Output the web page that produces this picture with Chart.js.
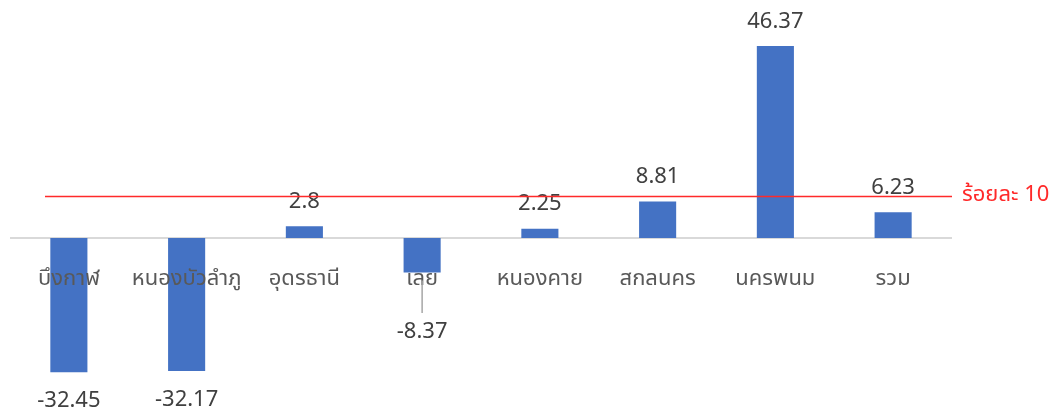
<!DOCTYPE html>
<html>
<head>
<meta charset="utf-8">
<script src="https://cdn.jsdelivr.net/npm/chart.js@4/dist/chart.umd.min.js"></script>
<style>
  html, body { margin: 0; padding: 0; background: #fff; }
  #wrap { width: 1058px; height: 413px; }
</style>
</head>
<body>
<div id="wrap"><canvas id="chart" width="1058" height="413"></canvas></div>
<script>
// ข้อมูลกราฟ
const provinces = ['บึงกาฬ', 'หนองบัวลำภู', 'อุดรธานี', 'เลย', 'หนองคาย', 'สกลนคร', 'นครพนม', 'รวม'];
const values = [-32.45, -32.17, 2.8, -8.37, 2.25, 8.81, 46.37, 6.23];
const targetValue = 10;
const targetLabel = 'ร้อยละ 10';

const FONT = "'Noto Sans Thai', Tahoma, 'Noto Sans', 'DejaVu Sans', sans-serif";

// วาดเส้นศูนย์ ป้ายหมวด ป้ายค่า และเส้นเป้าหมาย
const labelPlugin = {
    id: 'labelPlugin',
    beforeDatasetsDraw(chart) {
        const { ctx, chartArea, scales: { y } } = chart;
        const y0 = y.getPixelForValue(0);
        ctx.save();
        ctx.strokeStyle = '#d9d9d9';
        ctx.lineWidth = 2;
        ctx.beginPath();
        ctx.moveTo(chartArea.left, y0);
        ctx.lineTo(chartArea.right, y0);
        ctx.stroke();
        ctx.restore();
    },
    afterDatasetsDraw(chart) {
        const { ctx, chartArea, scales: { x, y } } = chart;
        const y0 = y.getPixelForValue(0);
        const catY = y0 + 43;
        ctx.save();

        // category labels
        ctx.font = '22px ' + FONT;
        ctx.fillStyle = '#595959';
        ctx.textAlign = 'center';
        ctx.textBaseline = 'middle';
        provinces.forEach((p, i) => {
            ctx.fillText(p, x.getPixelForValue(i), catY);
        });

        // value labels
        ctx.fillStyle = '#404040';
        values.forEach((v, i) => {
            const cx = x.getPixelForValue(i);
            const py = y.getPixelForValue(v);
            if (v >= 0) {
                ctx.fillText(String(v), cx, py - 23);
            } else if (py + 27 < catY + 30) {
                // ป้ายชนกับชื่อจังหวัด -> เลื่อนลงพร้อมเส้นนำ
                const ly = y0 + 96;
                ctx.strokeStyle = '#a6a6a6';
                ctx.lineWidth = 1.5;
                ctx.beginPath();
                ctx.moveTo(cx, py + 8);
                ctx.lineTo(cx, ly - 21);
                ctx.stroke();
                ctx.fillText(String(v), cx, ly);
            } else {
                ctx.fillText(String(v), cx, py + 30);
            }
        });

        // target line
        const ty = y.getPixelForValue(targetValue);
        ctx.strokeStyle = '#ff2a2a';
        ctx.lineWidth = 1.5;
        ctx.beginPath();
        ctx.moveTo(chartArea.left + 35, ty);
        ctx.lineTo(chartArea.right, ty);
        ctx.stroke();
        ctx.fillStyle = '#ff2a2a';
        ctx.textAlign = 'left';
        ctx.fillText(targetLabel, chartArea.right + 10, ty);
        ctx.restore();
    }
};

new Chart(document.getElementById('chart'), {
    type: 'bar',
    data: {
        labels: provinces,
        datasets: [{
            data: values,
            backgroundColor: '#4472c4',
            borderWidth: 0,
            categoryPercentage: 1,
            barPercentage: 0.315
        }]
    },
    options: {
        responsive: false,
        animation: false,
        layout: { padding: { left: 10, right: 106, top: 0, bottom: 0 } },
        plugins: { legend: { display: false }, tooltip: { enabled: false } },
        scales: {
            x: { display: false },
            y: { display: false, min: -42.3, max: 57.5 }
        }
    },
    plugins: [labelPlugin]
});
</script>
</body>
</html>
